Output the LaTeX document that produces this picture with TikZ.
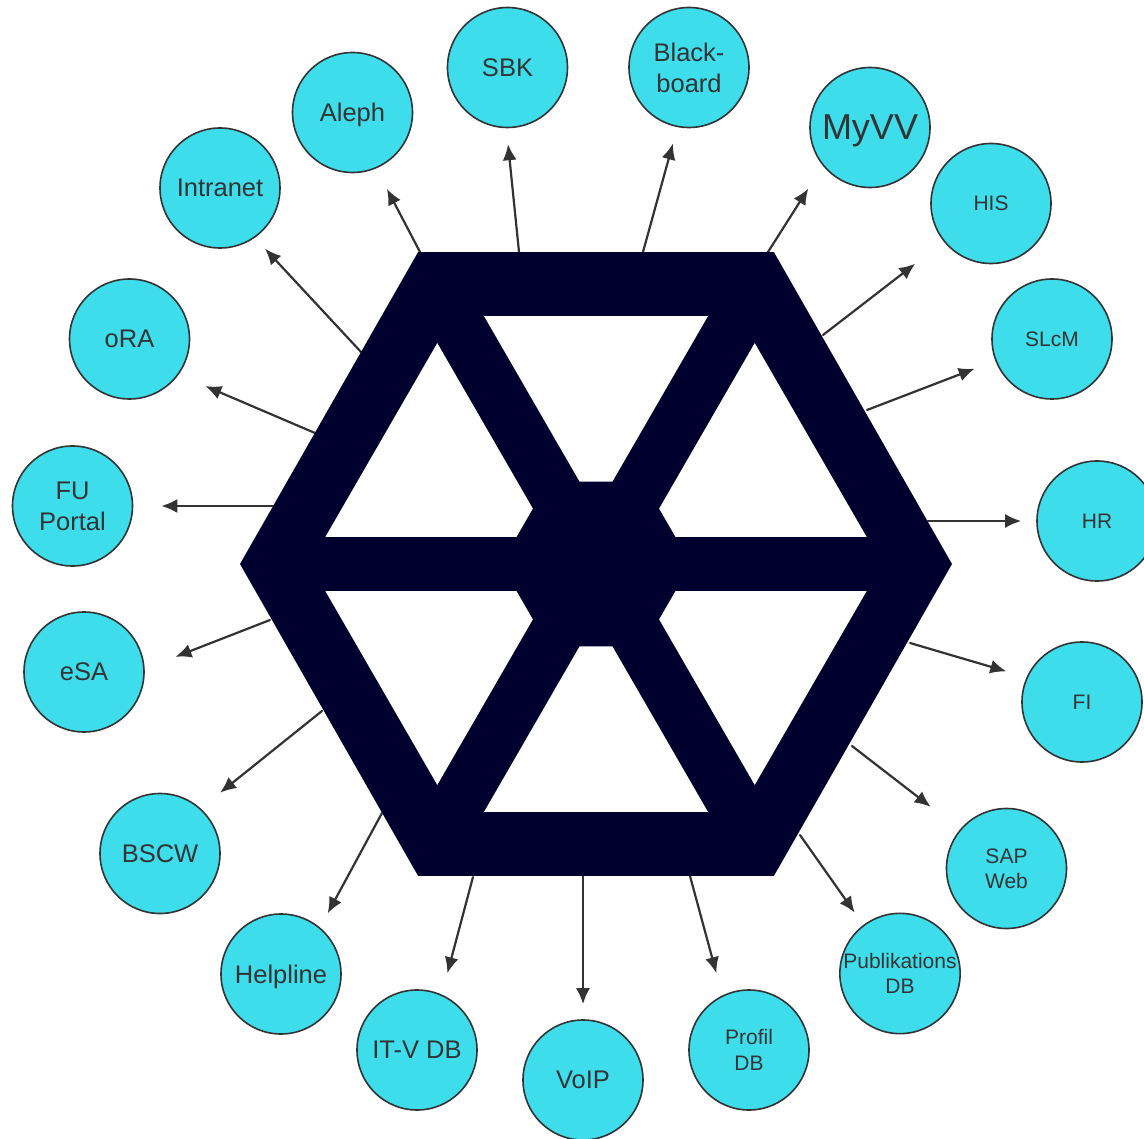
\documentclass[tikz,border=0pt]{standalone}
\usepackage{fontspec}
\setmainfont{Liberation Sans}
\usetikzlibrary{arrows.meta}
\definecolor{sysfill}{RGB}{61,221,235}
\definecolor{sysline}{RGB}{51,51,51}
\definecolor{hubnavy}{RGB}{0,0,46}

\begin{document}
\begin{tikzpicture}[x=1pt,y=-1pt,line cap=round,line join=round,
  sys/.style={circle,draw=sysline,line width=1.6pt,fill=sysfill,minimum size=120pt,
    inner sep=0pt,text=sysline,align=center,font=\fontsize{25.5}{31}\selectfont,text depth=0pt},
  smalltext/.style={font=\fontsize{21}{25.5}\selectfont},
  link/.style={draw=sysline,line width=2.2pt,-{Latex[length=16pt,width=14pt]}}]
  \useasboundingbox (0,0) rectangle (1144,1139);

  % systems around the hub
  \node[sys] (intranet) at (220,188) {Intranet};
  \node[sys] (aleph) at (352.5,112.5) {Aleph};
  \node[sys] (sbk) at (507.5,67.5) {SBK};
  \node[sys] (blackboard) at (689,67.5) {Black-\\board};
  \node[sys,font=\fontsize{36}{40}\selectfont] (myvv) at (870,127.5) {MyVV};
  \node[sys,smalltext] (his) at (991,203.5) {HIS};
  \node[sys,smalltext] (slcm) at (1052,339) {SLcM};
  \node[sys,smalltext] (hr) at (1097,521) {HR};
  \node[sys,smalltext] (fi) at (1082,702) {FI};
  \node[sys,smalltext] (sapweb) at (1006.5,868.5) {SAP\\Web};
  \node[sys,smalltext] (publdb) at (900,973.5) {Publikations\\DB};
  \node[sys,smalltext] (profildb) at (749,1050) {Profil\\DB};
  \node[sys] (voip) at (583,1080) {VoIP};
  \node[sys] (itvdb) at (417,1050) {IT-V DB};
  \node[sys] (helpline) at (281,974) {Helpline};
  \node[sys] (bscw) at (160,853.5) {BSCW};
  \node[sys] (esa) at (84,672) {eSA};
  \node[sys] (fuportal) at (72.5,506) {FU\\Portal};
  \node[sys] (ora) at (129.5,339) {oRA};

  % arrow starts on the hexagon rim
  \coordinate (s-intranet) at (361,352);
  \coordinate (s-aleph) at (420,252);
  \coordinate (s-sbk) at (519,252);
  \coordinate (s-blackboard) at (643,252);
  \coordinate (s-myvv) at (768,252);
  \coordinate (s-his) at (823,335);
  \coordinate (s-slcm) at (867,410);
  \coordinate (s-hr) at (928,521);
  \coordinate (s-fi) at (910,643);
  \coordinate (s-sapweb) at (852,746);
  \coordinate (s-publdb) at (800,835);
  \coordinate (s-profildb) at (690,876);
  \coordinate (s-voip) at (583,876);
  \coordinate (s-itvdb) at (473,877);
  \coordinate (s-helpline) at (382,813);
  \coordinate (s-bscw) at (322,711);
  \coordinate (s-esa) at (270,620);
  \coordinate (s-fuportal) at (273,506);
  \coordinate (s-ora) at (315,433);

  \draw[link,shorten >=15pt] (s-intranet) -- (intranet.305.6);
  \draw[link,shorten >=23pt] (s-aleph) -- (aleph.293);
  \draw[link,shorten >=16pt] (s-sbk) -- (sbk.269);
  \draw[link,shorten >=17pt] (s-blackboard) -- (blackboard.259.2);
  \draw[link,shorten >=27pt] (s-myvv) -- (myvv.219.1);
  \draw[link,shorten >=36pt] (s-his) -- (his.219);
  \draw[link,shorten >=22pt] (s-slcm) -- (slcm.201.4);
  \draw[link,shorten >=15pt] (s-hr) -- (hr.180);
  \draw[link,shorten >=21pt] (s-fi) -- (fi.156.8);
  \draw[link,shorten >=37pt] (s-sapweb) -- (sapweb.140.8);
  \draw[link,shorten >=15pt] (s-publdb) -- (publdb.127.9);
  \draw[link,shorten >=23pt] (s-profildb) -- (profildb.116.3);
  \draw[link,shorten >=15pt] (s-voip) -- (voip.90);
  \draw[link,shorten >=22pt] (s-itvdb) -- (itvdb.66.5);
  \draw[link,shorten >=16pt] (s-helpline) -- (helpline.50.9);
  \draw[link,shorten >=25pt] (s-bscw) -- (bscw.48.7);
  \draw[link,shorten >=33pt] (s-esa) -- (esa.3.9);
  \draw[link,shorten >=28pt] (s-fuportal) -- (fuportal.0);
  \draw[link,shorten >=29pt] (s-ora) -- (ora.324.5);

  % the hub: dark hexagon with six openings
  \begin{scope}[shift={(596,564)}]
    \fill[hubnavy] (0:356) -- (60:356 and 360) -- (120:356 and 360) -- (180:356)
      -- (240:356 and 360) -- (300:356 and 360) -- cycle;
    \fill[white] (30:54) -- (54.3:272) -- (5.7:272) -- cycle;
    \fill[white] (90:54) -- (114.3:272) -- (65.7:272) -- cycle;
    \fill[white] (150:54) -- (174.3:272) -- (125.7:272) -- cycle;
    \fill[white] (210:54) -- (234.3:272) -- (185.7:272) -- cycle;
    \fill[white] (270:54) -- (294.3:272) -- (245.7:272) -- cycle;
    \fill[white] (330:54) -- (354.3:272) -- (305.7:272) -- cycle;
    \fill[hubnavy] (0:95) -- (60:95) -- (120:95) -- (180:95) -- (240:95) -- (300:95) -- cycle;
  \end{scope}
\end{tikzpicture}
\end{document}
